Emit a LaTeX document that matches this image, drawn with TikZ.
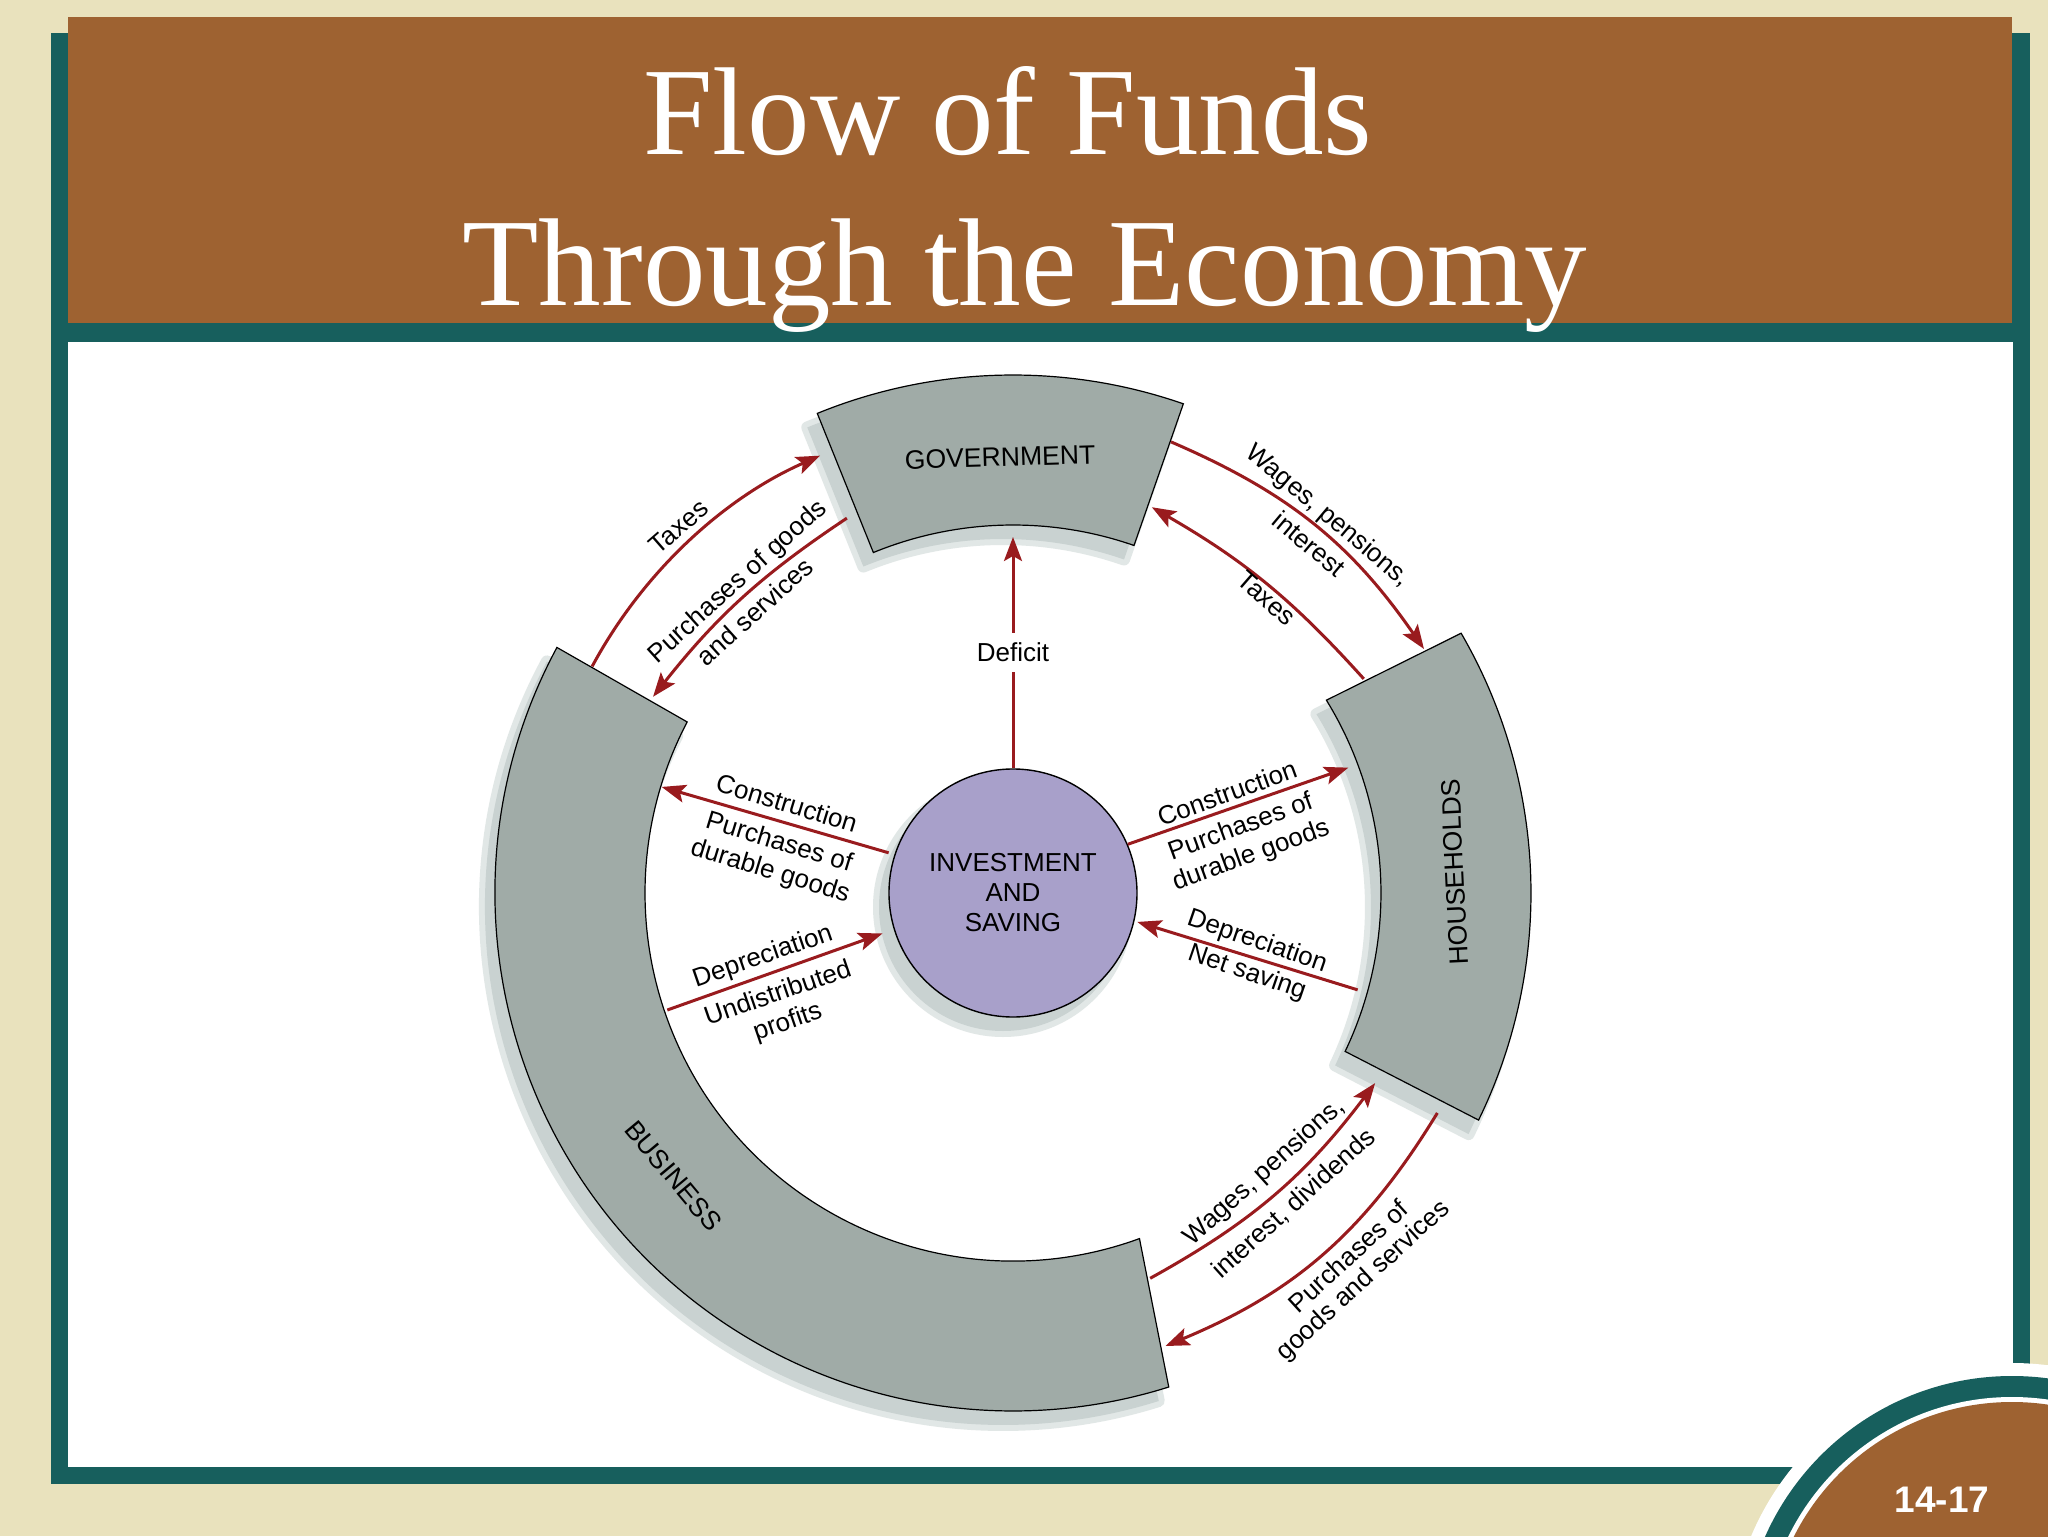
\documentclass[tikz,border=0pt]{standalone}
\usepackage{fontspec}
\setmainfont{Liberation Serif}
\newfontfamily\labfont{Liberation Sans}
\usetikzlibrary{arrows.meta}
\definecolor{tanbg}{HTML}{E9E2BD}
\definecolor{frameteal}{HTML}{175F5D}
\definecolor{hdrbrown}{HTML}{9E6231}
\definecolor{seggray}{HTML}{A0ABA7}
\definecolor{shadowc}{HTML}{C9D2D1}
\definecolor{shadowl}{HTML}{E1E7E6}
\definecolor{lav}{HTML}{A8A0CA}
\definecolor{flowred}{HTML}{991B1E}
\newcommand\segGov{(70.8:518) arc[start angle=70.8,end angle=112.2,radius=518] -- (112.3:368) arc[start angle=112.3,end angle=70.8,radius=368] -- cycle}
\newcommand\segHou{(-26:518) arc[start angle=-26,end angle=30.1,radius=518] -- (31.6:368) arc[start angle=31.6,end angle=-25.5,radius=368] -- cycle}
\newcommand\segBiz{(151.7:518) arc[start angle=151.7,end angle=287.5,radius=518] -- (290.1:368) arc[start angle=290.1,end angle=152.3,radius=368] -- cycle}
\begin{document}
\begin{tikzpicture}[x=0.5pt,y=0.5pt,
  flow/.style={draw=flowred, line width=1.5pt, -{Stealth[length=12pt,width=9pt,inset=2.5pt]}},
  lbl/.style={font=\labfont\fontsize{13}{15}\selectfont, align=center, inner sep=0pt, text=black},
  seglbl/.style={font=\labfont\fontsize{13.3}{15}\selectfont, inner sep=0pt, text=black},
  segfill/.style={fill=seggray, draw=black, line width=0.6pt},
  shadowsoft/.style={fill=shadowl, draw=shadowl, line width=6pt, line join=round, shift={(-10,-14)}},
  shadowhard/.style={fill=shadowc, shift={(-10,-14)}},
  title/.style={anchor=base, text=white, inner sep=0pt, font=\fontsize{62.5}{70}\selectfont}]
\useasboundingbox (-1013,-643) rectangle (1035,893);
% slide frame
\fill[tanbg] (-1013,-643) rectangle (1035,893);
\fill[frameteal] (-962,-591) rectangle (1017,860);
\fill[white] (-945,-574) rectangle (1000,551);
\fill[hdrbrown] (-945,570) rectangle (999,876);
\fill[white] (999,-753) circle[radius=283];
\fill[frameteal] (999,-753) circle[radius=270];
\fill[white] (999,-753) circle[radius=249];
\fill[hdrbrown] (999,-753) circle[radius=244];
\node[title] (t1) at (-5,738) {Flow of Funds};
\node[title] (t2) at (12,587) {Through the Economy};
\node[text=white, inner sep=0pt, font=\labfont\bfseries\fontsize{18.5}{20}\selectfont] (pg) at (929,-607) {14-17};
% shadows
\path[shadowsoft] \segGov;
\path[shadowsoft] \segHou;
\path[shadowsoft] \segBiz;
\fill[shadowhard] \segGov;
\fill[shadowhard] \segHou;
\fill[shadowhard] \segBiz;
\fill[shadowl] (-10,-14) circle[radius=130];
\fill[shadowc] (-10,-14) circle[radius=124];
% ring segments
\path[segfill] \segGov;
\path[segfill] \segHou;
\path[segfill] \segBiz;
\node[seglbl, rotate=1.7] (gov) at (91.7:436) {GOVERNMENT};
\node[seglbl, rotate=92.7] (hh) at (2.7:442) {HOUSEHOLDS};
\node[seglbl, rotate=-50.2] (biz) at (219.8:442) {BUSINESS};
% centre
\node[circle, draw=black, line width=0.7pt, fill=lav, minimum size=124pt, lbl] (inv) at (0,0) {INVESTMENT\\AND\\SAVING};
% coordinates at the segments
\coordinate (taxLs) at (151.7:478);
\coordinate (purLs) at (113.9:410);
\coordinate (purLe) at (151.4:410);
\coordinate (wagRs) at (70.7:478);
\coordinate (wagRe) at (30.7:478);
\coordinate (taxRs) at (31.4:411);
\coordinate (taxRe) at (70.2:410);
\coordinate (wagBs) at (-70.4:409);
\coordinate (wagBe) at (-27.7:409);
\coordinate (purBs) at (-27.4:478);
\coordinate (purBe) at (-71.4:478);
\coordinate (govB) at (90:356);
\coordinate (bizC) at (163.2:367);
\coordinate (bizD) at (198.7:365);
\coordinate (hhC) at (20.5:358);
\coordinate (hhD) at (-15.7:358);
% flows between sectors
\draw[flow] (taxLs) arc[start angle=151.7, end angle=113.8, radius=478];
\draw[flow] (purLs) to[bend right=9] (purLe);
\draw[flow] (wagRs) to[bend left=16] (wagRe);
\draw[flow] (taxRs) to[bend right=9] (taxRe);
\draw[flow] (wagBs) to[bend right=12] (wagBe);
\draw[flow] (purBs) to[bend left=18] (purBe);
% flows to and from investment
\draw[flow] (inv.north) -- node[lbl, fill=white, inner xsep=2pt, inner ysep=5pt] (defl) {Deficit} (govB);
\draw[flow, shorten <=3pt] (inv.162) -- (bizC);
\draw[flow, shorten >=6pt] (bizD) -- (inv.197);
\draw[flow] (inv.23) -- (hhC);
\draw[flow, shorten >=1.5pt] (hhD) -- (inv.347);
% labels
\node[lbl, rotate=41] (l1) at (132.4:496) {Taxes};
\node[lbl, rotate=42] (l2a) at (131.5:415) {Purchases of goods};
\node[lbl, rotate=42] (l2b) at (132.5:382) {and services};
\node[lbl, rotate=-40] (l3a) at (50.1:491) {Wages, pensions,};
\node[lbl, rotate=-40] (l3b) at (49.7:458) {interest};
\node[lbl, rotate=-41] (l4) at (49.3:389) {Taxes};
\node[lbl, rotate=42] (l5a) at (-48:376) {Wages, pensions,};
\node[lbl, rotate=42] (l5b) at (-47.9:419) {interest, dividends};
\node[lbl, rotate=42.4] (l6a) at (-47.3:494) {Purchases of};
\node[lbl, rotate=42.4] (l6b) at (-47.9:523) {goods and services};
\node[lbl, rotate=-17] (l7) at (-226,90) {Construction};
\node[lbl, rotate=-17] (l8) at (-238.5,35.5) {Purchases of\\durable goods};
\node[lbl, rotate=19] (l9) at (-250,-64) {Depreciation};
\node[lbl, rotate=19] (l10) at (-230,-115.5) {Undistributed\\profits};
\node[lbl, rotate=20] (l11) at (214,100) {Construction};
\node[lbl, rotate=20] (l12) at (233,51) {Purchases of\\durable goods};
\node[lbl, rotate=-19] (l13) at (244,-49) {Depreciation};
\node[lbl, rotate=-19] (l14) at (234,-80) {Net saving};
\end{tikzpicture}
\end{document}
